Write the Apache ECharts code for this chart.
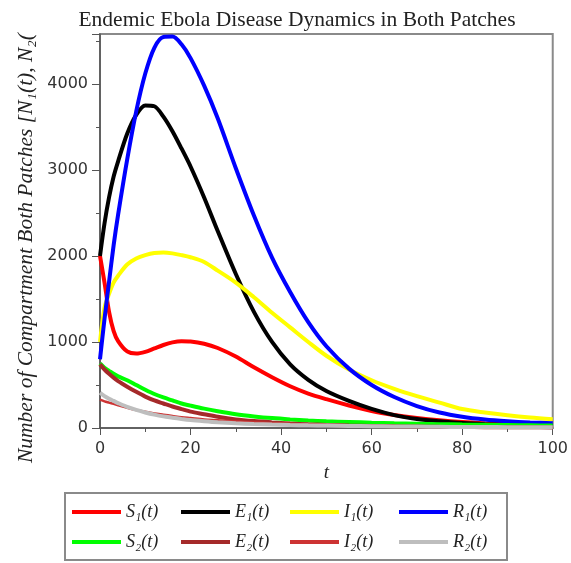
<!DOCTYPE html>
<html>
<head>
<meta charset="utf-8">
<script src="https://cdn.jsdelivr.net/npm/echarts@6/dist/echarts.min.js"></script>
<style>
  html, body { margin: 0; padding: 0; background: #fff; }
  #chart { width: 571px; height: 563px; }
</style>
</head>
<body>
<div id="chart"></div>
<script>
// time points (t)
const tVals = [0, 1, 2, 3, 4, 6, 8, 10, 12, 14, 16, 18, 20, 23, 26, 30, 34, 38, 42, 46, 50, 55, 60, 65, 70, 75, 80, 85, 90, 95, 100];

// patch 1
const S1 = [2000, 1690, 1350, 1130, 1010, 890, 865, 885, 925, 965, 995, 1008, 1005, 980, 930, 830, 705, 590, 485, 400, 335, 262, 198, 152, 117, 90, 70, 56, 46, 38, 32];
const E1 = [2000, 2380, 2680, 2920, 3100, 3420, 3640, 3750, 3740, 3620, 3450, 3250, 3040, 2680, 2290, 1790, 1350, 1000, 740, 560, 430, 315, 222, 150, 105, 78, 58, 45, 37, 31, 27];
const I1 = [1000, 1400, 1560, 1690, 1770, 1900, 1970, 2010, 2035, 2040, 2030, 2010, 1985, 1930, 1830, 1690, 1520, 1340, 1170, 1000, 840, 680, 555, 455, 370, 295, 220, 180, 148, 122, 102];
const R1 = [800, 1270, 1700, 2120, 2480, 3120, 3680, 4120, 4420, 4545, 4550, 4460, 4300, 3980, 3600, 3020, 2470, 1980, 1580, 1230, 950, 690, 500, 360, 255, 180, 130, 98, 78, 64, 55];

// patch 2
const S2 = [750, 700, 665, 630, 600, 555, 500, 445, 395, 355, 320, 285, 260, 225, 195, 160, 135, 115, 100, 88, 78, 70, 62, 55, 50, 45, 40, 37, 34, 31, 28];
const E2 = [740, 680, 630, 585, 545, 480, 420, 365, 320, 285, 250, 220, 190, 160, 130, 100, 80, 65, 52, 43, 36, 29, 24, 20, 17, 14, 12, 10, 9, 8, 7];
const I2 = [330, 310, 295, 280, 265, 235, 210, 190, 170, 155, 140, 125, 115, 100, 90, 75, 65, 55, 48, 42, 37, 32, 27, 23, 20, 17, 15, 13, 11, 10, 9];
const R2 = [410, 370, 340, 315, 290, 245, 210, 180, 155, 135, 120, 105, 92, 78, 66, 55, 46, 40, 35, 31, 28, 24, 21, 18, 16, 14, 12, 11, 10, 9, 8];

const xTicks = [0, 20, 40, 60, 80, 100];
const yTicks = [0, 1000, 2000, 3000, 4000];

const lines = [
  { name: "S₁(t)", data: S1, color: "#ff0000", w: 4 },
  { name: "E₁(t)", data: E1, color: "#000000", w: 4 },
  { name: "I₁(t)", data: I1, color: "#ffff00", w: 4 },
  { name: "R₁(t)", data: R1, color: "#0000ff", w: 4 },
  { name: "S₂(t)", data: S2, color: "#00ff00", w: 4 },
  { name: "E₂(t)", data: E2, color: "#a52a2a", w: 4 },
  { name: "I₂(t)", data: I2, color: "#cd3333", w: 2.5 },
  { name: "R₂(t)", data: R2, color: "#bebebe", w: 4 }
];

const serif = "'Liberation Serif', 'DejaVu Serif', serif";
const sans = "'DejaVu Sans', sans-serif";
const chart = echarts.init(document.getElementById("chart"));

chart.setOption({
  animation: false,
  backgroundColor: "#fff",
  title: {
    text: "Endemic Ebola Disease Dynamics in Both Patches",
    left: 292,
    textAlign: "center",
    top: 4,
    textStyle: { fontFamily: serif, fontWeight: "normal", fontSize: 21.5, color: "#222" }
  },
  grid: {
    left: 100, right: 17, top: 34, bottom: 135,
    show: true, borderColor: "#8a8a8a", borderWidth: 2, backgroundColor: "transparent"
  },
  legend: {
    left: 65, top: 493, width: 440,
    padding: [10, 11, 9, 7],
    borderColor: "#8a8a8a", borderWidth: 2,
    itemWidth: 49, itemHeight: 4, itemGap: 12,
    icon: "rect",
    data: lines.map(l => l.name),
    textStyle: { fontFamily: serif, fontStyle: "italic", fontSize: 18, color: "#222", lineHeight: 18, width: 43 }
  },
  xAxis: {
    type: "value", min: 0, max: 100, interval: 20,
    name: "t", nameLocation: "middle", nameGap: 35,
    nameTextStyle: { fontFamily: serif, fontStyle: "italic", fontSize: 19, color: "#222" },
    axisLine: { show: true, onZero: false, lineStyle: { color: "#555", width: 1.5 } },
    axisTick: { show: true, length: 7, lineStyle: { color: "#555" } },
    minorTick: { show: true, splitNumber: 2, length: 4, lineStyle: { color: "#555" } },
    axisLabel: {
      fontFamily: sans, fontSize: 16, color: "#333", margin: 13,
      formatter: v => xTicks.includes(v) ? String(v) : ""
    },
    splitLine: { show: false }
  },
  yAxis: [{
    type: "value", min: 0, max: 4580, interval: 1000,
    axisLine: { show: true, onZero: false, lineStyle: { color: "#555", width: 1.5 } },
    axisTick: { show: true, length: 8, lineStyle: { color: "#555" } },
    axisLabel: {
      fontFamily: sans, fontSize: 16, color: "#333", margin: 12,
      formatter: v => yTicks.includes(v) ? String(v) : ""
    },
    splitLine: { show: false }
  }, {
    // half-step minor ticks
    type: "value", position: "left", min: 0, max: 4580, interval: 500,
    axisLine: { show: false },
    axisTick: { show: true, length: 4, lineStyle: { color: "#555" } },
    axisLabel: { show: false },
    splitLine: { show: false }
  }],
  graphic: [{
    type: "text",
    x: 26, y: 463,
    rotation: Math.PI / 2,
    style: {
      text: "Number of Compartment Both Patches [N₁(t), N₂(",
      font: "italic 21.5px " + serif,
      fill: "#222",
      textAlign: "left",
      textVerticalAlign: "middle"
    }
  }],
  series: lines.map(l => ({
    name: l.name,
    type: "line",
    yAxisIndex: 0,
    smooth: 0.3,
    showSymbol: false,
    color: l.color,
    lineStyle: { width: l.w, color: l.color },
    data: tVals.map((t, i) => [t, l.data[i]])
  }))
});
</script>
</body>
</html>
